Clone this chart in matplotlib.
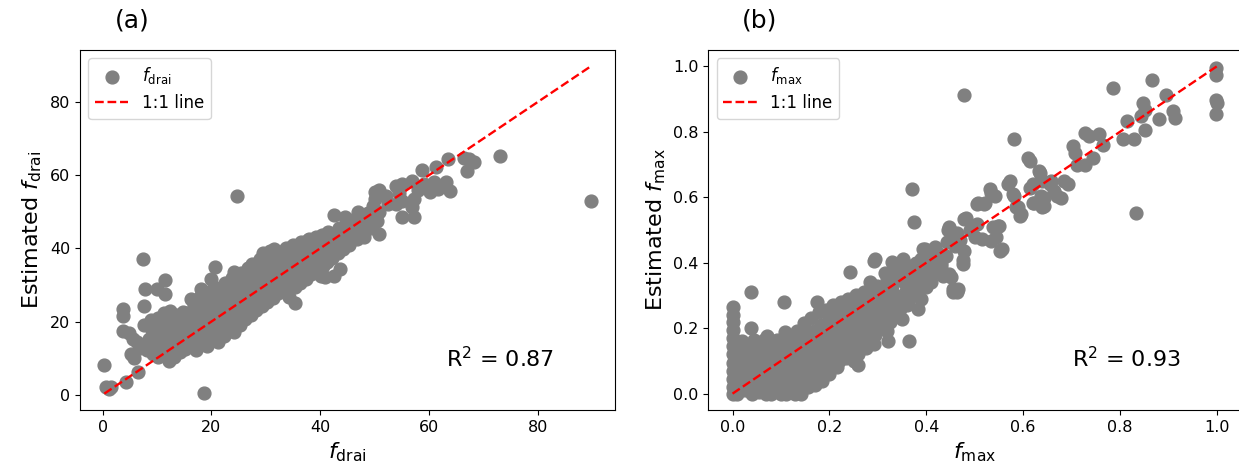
import matplotlib
matplotlib.use("Agg")
import matplotlib.pyplot as plt

# ---------------- data ----------------
# panel (a): (observed f_drai, estimated f_drai)
drai_points = [
    (0.3, 8.0), (0.6, 2.0), (1.2, 1.5), (1.6, 2.2), (4.3, 3.5), (6.5, 6.2), (18.7, 0.5),
    (3.7, 23.5), (3.7, 21.6), (3.8, 17.5), (4.8, 16.8), (5.6, 15.2), (6.3, 14.5), (5.2, 11.2),
    (5.8, 10.0), (6.8, 12.8), (7.6, 13.6), (7.4, 37.1), (7.7, 28.9), (7.6, 24.2), (7.6, 19.1),
    (11.4, 31.4), (10.0, 28.9), (11.4, 27.5), (10.2, 21.0), (20.6, 34.8), (20.0, 31.6),
    (16.3, 26.2), (18.1, 28.9), (24.7, 54.4), (89.7, 53.0), (35.3, 25.0),
    (8.2, 12.1), (8.5, 15.3), (9.0, 17.8), (8.8, 20.5), (9.3, 11.0), (9.6, 13.8),
    (10.1, 10.2), (10.4, 12.9), (10.0, 15.8), (10.6, 18.6), (10.3, 20.4),
    (11.2, 11.3), (11.5, 14.1), (11.0, 16.9), (11.7, 19.5), (11.3, 22.2),
    (12.2, 9.3), (12.0, 12.0), (12.6, 14.9), (12.3, 17.6), (12.8, 20.8), (12.4, 23.0),
    (13.1, 10.4), (13.5, 13.2), (13.2, 16.1), (13.7, 18.9), (13.4, 21.7),
    (14.3, 11.6), (14.0, 14.4), (14.6, 17.2), (14.2, 19.8), (14.8, 22.6),
    (15.2, 12.5), (15.5, 15.1), (15.1, 18.0), (15.7, 20.6), (15.4, 22.3),
    (16.3, 13.4), (16.0, 16.2), (16.6, 19.0), (16.2, 21.9), (16.8, 24.5),
    (17.1, 12.3), (17.4, 15.0), (17.2, 17.8), (17.7, 20.7), (17.3, 23.6), (17.9, 26.8),
    (18.2, 14.2), (18.6, 16.9), (18.3, 19.8), (18.8, 22.7), (18.4, 25.5),
    (19.2, 13.3), (19.5, 16.2), (19.1, 19.1), (19.7, 21.9), (19.3, 24.8), (19.8, 28.0),
    (20.3, 15.2), (20.0, 18.0), (20.6, 20.9), (20.2, 23.8), (20.8, 26.6), (20.4, 29.5),
    (21.2, 14.5), (21.5, 17.3), (21.1, 20.2), (21.7, 23.0), (21.3, 25.9), (21.8, 28.7),
    (22.3, 16.1), (22.0, 19.0), (22.6, 21.8), (22.2, 24.7), (22.8, 27.5), (22.4, 30.6),
    (23.1, 17.8), (23.5, 20.6), (23.2, 23.5), (23.7, 26.3), (23.3, 29.2), (23.8, 32.0),
    (24.2, 17.2), (24.6, 20.0), (24.3, 22.9), (24.8, 25.7), (24.4, 28.6), (24.9, 31.4), (24.1, 33.4),
    (25.3, 19.0), (25.0, 21.8), (25.6, 24.7), (25.2, 27.5), (25.7, 30.4), (25.4, 33.2),
    (26.2, 20.8), (26.5, 23.7), (26.1, 26.5), (26.7, 29.4), (26.3, 32.2), (26.8, 34.6),
    (27.3, 21.9), (27.0, 24.8), (27.6, 27.6), (27.2, 30.5), (27.7, 33.3), (27.4, 35.8),
    (28.2, 23.1), (28.6, 25.9), (28.3, 28.8), (28.8, 31.6), (28.4, 34.5), (28.9, 37.0),
    (29.3, 24.2), (29.0, 27.1), (29.6, 29.9), (29.2, 32.8), (29.7, 35.6), (29.4, 38.6),
    (30.2, 25.4), (30.5, 28.2), (30.1, 31.1), (30.7, 33.9), (30.3, 36.8), (30.8, 39.2),
    (31.3, 26.5), (31.0, 29.4), (31.6, 32.2), (31.2, 35.1), (31.7, 37.9), (31.4, 39.9),
    (32.2, 27.7), (32.6, 30.5), (32.3, 33.4), (32.8, 36.2), (32.4, 39.1),
    (33.3, 28.8), (33.0, 31.7), (33.6, 34.5), (33.2, 37.4), (33.7, 40.2),
    (34.2, 26.8), (34.6, 30.0), (34.3, 32.8), (34.8, 35.7), (34.4, 38.5), (34.9, 40.8),
    (35.3, 29.4), (35.0, 32.3), (35.6, 35.1), (35.2, 38.0), (35.7, 40.6),
    (36.2, 30.6), (36.6, 33.4), (36.3, 36.3), (36.8, 39.1), (36.4, 41.6),
    (37.3, 31.7), (37.0, 34.6), (37.6, 37.4), (37.2, 40.3), (37.7, 42.3),
    (38.2, 32.9), (38.6, 35.7), (38.3, 38.6), (38.8, 41.4), (37.9, 42.5),
    (39.3, 33.5), (39.0, 36.9), (39.6, 39.7), (39.2, 42.6), (39.3, 43.0),
    (40.2, 32.5), (40.5, 35.1), (40.1, 38.0), (40.7, 40.8), (40.3, 43.5), (40.8, 32.1),
    (41.3, 36.3), (41.0, 39.1), (41.6, 41.9), (41.5, 44.4),
    (42.2, 37.4), (42.6, 40.3), (42.3, 43.1), (42.6, 49.0), (42.6, 32.5), (43.0, 40.3),
    (43.2, 38.6), (43.6, 41.4), (43.7, 34.4), (43.7, 42.5), (43.4, 45.5),
    (44.2, 39.8), (44.5, 48.5), (44.6, 42.6), (44.3, 44.9),
    (45.2, 41.0), (45.2, 46.2), (45.6, 43.8), (45.8, 47.2),
    (46.3, 48.0), (46.2, 44.5), (46.7, 42.6),
    (47.0, 49.8), (47.3, 46.0), (47.7, 44.2),
    (48.0, 45.3), (48.1, 43.0), (48.4, 47.5), (48.8, 49.6),
    (49.2, 47.1), (49.6, 51.6), (49.3, 45.5), (49.8, 48.5),
    (50.0, 53.5), (50.0, 55.3), (50.7, 56.0), (50.7, 49.8), (50.7, 43.9), (50.4, 47.5),
    (52.1, 54.4), (53.9, 52.1), (53.9, 57.1), (55.0, 57.5), (55.0, 53.0), (56.9, 51.2),
    (55.0, 48.5), (57.2, 48.5), (57.2, 53.5), (56.9, 58.5), (58.7, 61.5), (59.0, 57.5),
    (60.9, 58.0), (61.6, 56.2), (60.1, 55.3), (61.2, 62.1), (63.1, 58.0), (63.8, 55.7),
    (63.4, 64.5), (66.4, 64.8), (67.4, 64.4), (68.2, 63.5), (66.9, 61.2), (73.1, 65.3),
    (52.5, 52.0), (54.5, 55.0), (58.0, 56.0),
]

# panel (b): (observed f_max, estimated f_max)
fmax_points = [
    (0.0, 0.0), (0.0, 0.02), (0.0, 0.045), (0.0, 0.07), (0.0, 0.095), (0.0, 0.12),
    (0.0, 0.145), (0.0, 0.17), (0.0, 0.195), (0.0, 0.22), (0.0, 0.24), (0.0, 0.264),
    (0.01, 0.0), (0.012, 0.035), (0.008, 0.07), (0.015, 0.105), (0.01, 0.13),
    (0.025, 0.01), (0.028, 0.05), (0.022, 0.085), (0.03, 0.12), (0.026, 0.14),
    (0.04, 0.0), (0.042, 0.03), (0.038, 0.065), (0.045, 0.1), (0.04, 0.135), (0.039, 0.2),
    (0.039, 0.31), (0.045, 0.165),
    (0.055, 0.005), (0.058, 0.04), (0.052, 0.075), (0.06, 0.11), (0.056, 0.14), (0.065, 0.165),
    (0.07, 0.0), (0.073, 0.03), (0.068, 0.065), (0.075, 0.095), (0.07, 0.125), (0.078, 0.155),
    (0.072, 0.175),
    (0.085, 0.01), (0.088, 0.045), (0.082, 0.08), (0.09, 0.11), (0.086, 0.14), (0.092, 0.165),
    (0.1, 0.0), (0.103, 0.03), (0.098, 0.065), (0.105, 0.095), (0.1, 0.125), (0.108, 0.155),
    (0.108, 0.188), (0.107, 0.279),
    (0.115, 0.01), (0.118, 0.045), (0.112, 0.08), (0.12, 0.11), (0.116, 0.14), (0.122, 0.17),
    (0.13, 0.0), (0.133, 0.035), (0.128, 0.07), (0.135, 0.1), (0.13, 0.13), (0.138, 0.16),
    (0.134, 0.19),
    (0.141, 0.0), (0.148, 0.05), (0.142, 0.085), (0.15, 0.115), (0.146, 0.145), (0.152, 0.18),
    (0.148, 0.215),
    (0.16, 0.04), (0.163, 0.07), (0.158, 0.1), (0.165, 0.13), (0.16, 0.16), (0.168, 0.19),
    (0.163, 0.23), (0.171, 0.025),
    (0.175, 0.06), (0.178, 0.09), (0.172, 0.12), (0.18, 0.15), (0.176, 0.18), (0.182, 0.21),
    (0.178, 0.25), (0.175, 0.28),
    (0.19, 0.07), (0.193, 0.1), (0.188, 0.13), (0.195, 0.16), (0.19, 0.19), (0.198, 0.22),
    (0.193, 0.255),
    (0.205, 0.085), (0.208, 0.115), (0.202, 0.145), (0.21, 0.175), (0.206, 0.205), (0.212, 0.235),
    (0.208, 0.27),
    (0.22, 0.1), (0.223, 0.13), (0.218, 0.16), (0.225, 0.19), (0.22, 0.22), (0.228, 0.25),
    (0.224, 0.28),
    (0.235, 0.11), (0.238, 0.14), (0.232, 0.17), (0.24, 0.2), (0.236, 0.23), (0.242, 0.26),
    (0.238, 0.29), (0.243, 0.371),
    (0.25, 0.1), (0.253, 0.15), (0.248, 0.18), (0.255, 0.21), (0.25, 0.24), (0.258, 0.27),
    (0.254, 0.3), (0.259, 0.086), (0.263, 0.142),
    (0.265, 0.16), (0.268, 0.19), (0.262, 0.22), (0.27, 0.25), (0.266, 0.28), (0.272, 0.31),
    (0.28, 0.17), (0.283, 0.2), (0.278, 0.23), (0.285, 0.26), (0.28, 0.29), (0.288, 0.32),
    (0.284, 0.34), (0.292, 0.152), (0.292, 0.406),
    (0.295, 0.18), (0.298, 0.21), (0.302, 0.24), (0.3, 0.27), (0.304, 0.305), (0.298, 0.33),
    (0.295, 0.411),
    (0.31, 0.2), (0.313, 0.23), (0.308, 0.26), (0.315, 0.29), (0.31, 0.32), (0.318, 0.35),
    (0.314, 0.37), (0.321, 0.162), (0.329, 0.401),
    (0.325, 0.22), (0.332, 0.274), (0.328, 0.25), (0.335, 0.3), (0.33, 0.33), (0.338, 0.36),
    (0.334, 0.38), (0.341, 0.386), (0.349, 0.228), (0.353, 0.411),
    (0.345, 0.26), (0.35, 0.29), (0.359, 0.315), (0.355, 0.34), (0.348, 0.37), (0.36, 0.36),
    (0.365, 0.162), (0.37, 0.624), (0.374, 0.525), (0.365, 0.29), (0.37, 0.33), (0.372, 0.36),
    (0.368, 0.39), (0.378, 0.4),
    (0.378, 0.31), (0.382, 0.259), (0.386, 0.37), (0.385, 0.34), (0.39, 0.41), (0.394, 0.442),
    (0.4, 0.325), (0.4, 0.36), (0.405, 0.39), (0.41, 0.42), (0.397, 0.443),
    (0.419, 0.447), (0.42, 0.4), (0.415, 0.37), (0.425, 0.43), (0.431, 0.391), (0.435, 0.36),
    (0.443, 0.462), (0.444, 0.501), (0.44, 0.42), (0.448, 0.365),
    (0.452, 0.355), (0.455, 0.31), (0.463, 0.31), (0.457, 0.491), (0.456, 0.32), (0.466, 0.32),
    (0.463, 0.492), (0.46, 0.45), (0.447, 0.508),
    (0.475, 0.396), (0.476, 0.407), (0.479, 0.437), (0.478, 0.914), (0.479, 0.533),
    (0.483, 0.538), (0.47, 0.47),
    (0.49, 0.5), (0.5, 0.48), (0.504, 0.518), (0.504, 0.579), (0.507, 0.584), (0.516, 0.472),
    (0.52, 0.579), (0.521, 0.584), (0.531, 0.624), (0.533, 0.614), (0.533, 0.467),
    (0.538, 0.508), (0.541, 0.604), (0.544, 0.478), (0.549, 0.513), (0.551, 0.513),
    (0.553, 0.437), (0.557, 0.443),
    (0.569, 0.64), (0.572, 0.65), (0.579, 0.609), (0.582, 0.604), (0.582, 0.779), (0.586, 0.569),
    (0.59, 0.569), (0.594, 0.543), (0.596, 0.548), (0.61, 0.721), (0.614, 0.711), (0.614, 0.629),
    (0.62, 0.64), (0.62, 0.584), (0.622, 0.584), (0.633, 0.68), (0.635, 0.675), (0.637, 0.604),
    (0.639, 0.569), (0.64, 0.65), (0.643, 0.599), (0.644, 0.574), (0.655, 0.64), (0.657, 0.65),
    (0.663, 0.619), (0.671, 0.604), (0.679, 0.599), (0.685, 0.65), (0.692, 0.64),
    (0.704, 0.756), (0.708, 0.736), (0.712, 0.7), (0.728, 0.797), (0.728, 0.7), (0.737, 0.787),
    (0.745, 0.721), (0.757, 0.792), (0.765, 0.761), (0.785, 0.934), (0.806, 0.777),
    (0.815, 0.832), (0.83, 0.777), (0.834, 0.553), (0.843, 0.848), (0.847, 0.888),
    (0.851, 0.868), (0.851, 0.807), (0.867, 0.959), (0.88, 0.838), (0.896, 0.914),
    (0.909, 0.863), (0.913, 0.843), (0.999, 0.995), (0.999, 0.975), (0.999, 0.898),
    (1.0, 0.888), (0.999, 0.853),
    # extra points inside the dense cloud near the origin
    (0.005, 0.155), (0.018, 0.02), (0.02, 0.16), (0.033, 0.03), (0.035, 0.09), (0.048, 0.05),
    (0.05, 0.12), (0.062, 0.02), (0.063, 0.09), (0.08, 0.0), (0.08, 0.06), (0.093, 0.03),
    (0.095, 0.14), (0.11, 0.0), (0.11, 0.06), (0.125, 0.02), (0.125, 0.15), (0.14, 0.12),
    (0.155, 0.02), (0.155, 0.07), (0.17, 0.1), (0.17, 0.16), (0.185, 0.04), (0.185, 0.2),
    (0.2, 0.06), (0.2, 0.12), (0.215, 0.08), (0.215, 0.14), (0.23, 0.12), (0.245, 0.13),
    (0.26, 0.12), (0.275, 0.14), (0.29, 0.19), (0.305, 0.22), (0.32, 0.19), (0.34, 0.24),
    (0.36, 0.27), (0.39, 0.29), (0.41, 0.34), (0.43, 0.4),
]

panel_labels = ["(a)", "(b)"]
series_labels = [r"$f_{\mathrm{drai}}$", r"$f_{\mathrm{max}}$"]
r2_texts = [r"R$^2$ = 0.87", r"R$^2$ = 0.93"]
xticks_a = [0, 20, 40, 60, 80]
yticks_a = [0, 20, 40, 60, 80]
ticks_b = [0.0, 0.2, 0.4, 0.6, 0.8, 1.0]

# ---------------- figure ----------------
W, H = 1239, 475
fig = plt.figure(figsize=(W / 100, H / 100), dpi=100)
ax1 = fig.add_axes([80 / W, 65 / H, 535 / W, 360 / H])
ax2 = fig.add_axes([708.3 / W, 65 / H, 532.7 / W, 360 / H])

POINT_COLOR = "#808080"
for ax, pts, lab, r2, plab in [
    (ax1, drai_points, series_labels[0], r2_texts[0], panel_labels[0]),
    (ax2, fmax_points, series_labels[1], r2_texts[1], panel_labels[1]),
]:
    xs = [p[0] for p in pts]
    ys = [p[1] for p in pts]
    ax.scatter(xs, ys, s=85, color=POINT_COLOR, label=lab, zorder=2)
    lo, hi = min(xs), max(xs)
    ax.plot([lo, hi], [lo, hi], "--", color="red", lw=1.7, label="1:1 line", zorder=3)
    ax.legend(loc="upper left", fontsize=12, borderaxespad=0.5)
    ax.text(0.785, 0.143, r2, transform=ax.transAxes, ha="center", va="center", fontsize=16)
    ax.text(0.097, 1.083, plab, transform=ax.transAxes, ha="center", va="center", fontsize=18)
    ax.tick_params(labelsize=11.5)

ax1.set_xticks(xticks_a)
ax1.set_yticks(yticks_a)
ax1.set_xlabel(r"$f_{\mathrm{drai}}$", fontsize=16)
ax1.set_ylabel(r"Estimated $f_{\mathrm{drai}}$", fontsize=16)

ax2.set_xticks(ticks_b)
ax2.set_yticks(ticks_b)
ax2.set_xlabel(r"$f_{\mathrm{max}}$", fontsize=16)
ax2.set_ylabel(r"Estimated $f_{\mathrm{max}}$", fontsize=16)

fig.savefig("out.png", dpi=100)
